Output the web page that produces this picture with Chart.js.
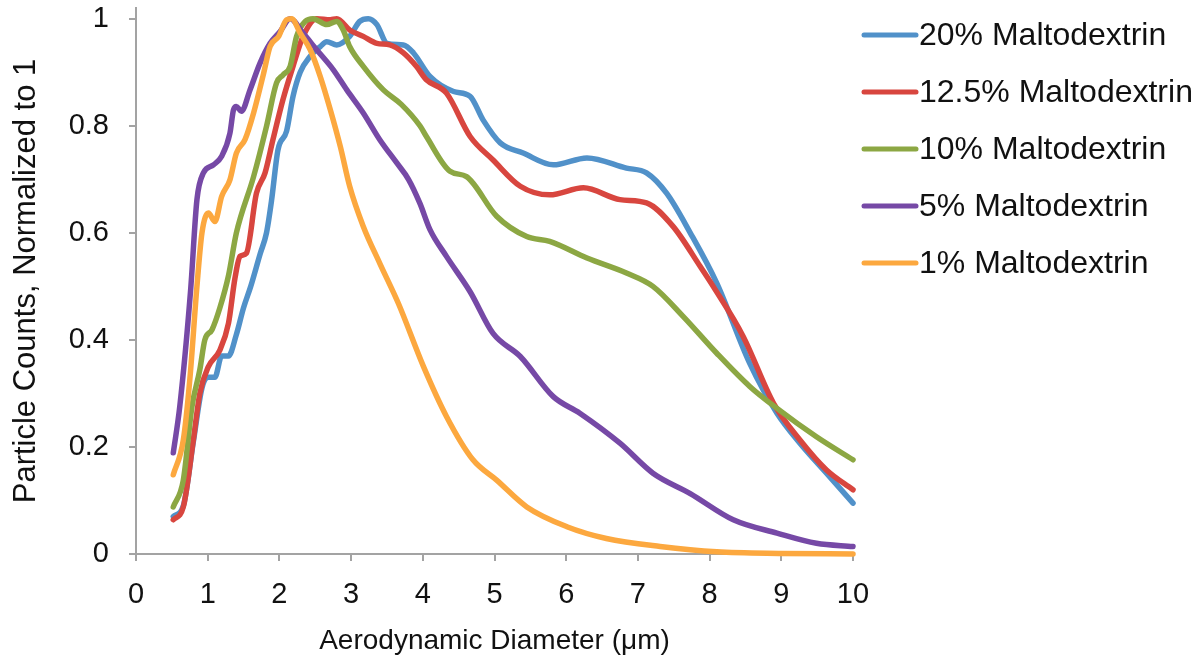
<!DOCTYPE html>
<html>
<head>
<meta charset="utf-8">
<script src="https://cdn.jsdelivr.net/npm/chart.js@4.4.1/dist/chart.umd.min.js"></script>
<style>
  html, body { margin: 0; padding: 0; background: #fff; }
  #wrap { width: 1203px; height: 663px; position: relative; }
</style>
</head>
<body>
<div id="wrap"><canvas id="chart"></canvas></div>
<script>
// size distributions, aerodynamic diameter (um) vs normalized counts
const seriesNames = ['20% Maltodextrin', '12.5% Maltodextrin', '10% Maltodextrin', '5% Maltodextrin', '1% Maltodextrin'];
const seriesColors = ['#5191c9', '#d8463f', '#8ca743', '#7649a6', '#fca83f'];

const diam20 = [0.52,0.66,0.80,0.92,1.01,1.10,1.195,1.29,1.40,1.50,1.60,1.73,1.82,1.89,1.98,2.10,2.19,2.29,2.43,2.57,2.66,2.80,2.98,3.12,3.24,3.36,3.50,3.73,3.87,4.10,4.43,4.66,4.84,5.08,5.40,5.82,6.29,6.84,7.12,7.40,7.73,8.10,8.56,8.94,9.26,9.63,10];
const count20 = [0.07,0.09,0.21,0.31,0.33,0.33,0.37,0.37,0.41,0.46,0.50,0.56,0.60,0.66,0.755,0.79,0.855,0.90,0.93,0.948,0.957,0.951,0.967,0.995,1.0,0.989,0.954,0.951,0.936,0.892,0.864,0.855,0.811,0.768,0.749,0.727,0.740,0.721,0.712,0.674,0.600,0.506,0.356,0.263,0.207,0.151,0.095];

const diam125 = [0.52,0.66,0.80,0.89,1.01,1.17,1.29,1.38,1.45,1.54,1.68,1.80,1.91,2.05,2.19,2.33,2.52,2.71,2.80,2.98,3.17,3.36,3.54,3.73,3.91,4.05,4.33,4.66,4.98,5.36,5.77,6.24,6.75,7.12,7.49,7.87,8.05,8.47,8.89,9.26,9.63,10];
const count125 = [0.064,0.088,0.213,0.300,0.350,0.381,0.431,0.515,0.556,0.562,0.674,0.712,0.774,0.849,0.911,0.967,1.0,0.998,1.0,0.979,0.967,0.954,0.951,0.936,0.911,0.886,0.861,0.780,0.736,0.687,0.671,0.684,0.662,0.656,0.612,0.537,0.500,0.406,0.282,0.213,0.157,0.120];

const diam10 = [0.52,0.66,0.78,0.89,0.96,1.06,1.17,1.29,1.40,1.64,1.82,1.96,2.05,2.15,2.24,2.36,2.47,2.66,2.80,2.89,2.98,3.17,3.45,3.70,3.96,4.05,4.38,4.61,5.03,5.45,5.77,6.29,6.84,7.21,7.63,8.10,8.56,8.94,9.49,10];
const count10 = [0.088,0.138,0.275,0.344,0.400,0.419,0.46,0.52,0.60,0.705,0.799,0.880,0.895,0.911,0.967,0.995,1.0,0.989,0.995,0.979,0.948,0.911,0.867,0.84,0.80,0.78,0.715,0.705,0.631,0.593,0.584,0.553,0.525,0.500,0.444,0.375,0.313,0.272,0.219,0.176];

const diam5 = [0.52,0.61,0.76,0.85,0.94,1.08,1.195,1.31,1.36,1.40,1.47,1.59,1.73,1.87,2.01,2.15,2.33,2.52,2.75,2.94,3.17,3.40,3.64,3.80,3.96,4.10,4.33,4.66,4.98,5.36,5.82,6.19,6.75,7.21,7.73,8.33,8.94,9.49,10];
const count5 = [0.189,0.275,0.49,0.662,0.712,0.727,0.743,0.786,0.830,0.836,0.827,0.867,0.917,0.954,0.976,1.0,0.973,0.942,0.905,0.867,0.824,0.774,0.730,0.70,0.655,0.606,0.556,0.49,0.412,0.369,0.294,0.263,0.207,0.151,0.113,0.064,0.039,0.020,0.014];

const diam1 = [0.52,0.66,0.75,0.85,0.92,1.01,1.10,1.195,1.31,1.40,1.52,1.64,1.78,1.87,1.99,2.10,2.17,2.29,2.43,2.57,2.71,2.85,2.98,3.17,3.40,3.66,4.01,4.33,4.70,5.03,5.45,6.01,6.56,7.31,8.10,9.0,10];
const count1 = [0.148,0.213,0.325,0.50,0.600,0.637,0.621,0.668,0.699,0.749,0.774,0.824,0.898,0.948,0.967,0.998,1.0,0.973,0.942,0.892,0.830,0.761,0.687,0.612,0.543,0.468,0.350,0.257,0.176,0.138,0.088,0.051,0.029,0.014,0.004,0.001,0];

const xTicks = [0,1,2,3,4,5,6,7,8,9,10];
const yTicks = [0,0.2,0.4,0.6,0.8,1];

const diams = [diam20, diam125, diam10, diam5, diam1];
const counts = [count20, count125, count10, count5, count1];

const FONT = 'Liberation Sans, Arial, Helvetica, sans-serif';
const AXIS_GREY = '#a3a3a3';

const datasets = seriesNames.map((name, i) => ({
  label: name,
  data: diams[i].map((d, j) => ({ x: d, y: counts[i][j] })),
  borderColor: seriesColors[i],
  backgroundColor: seriesColors[i],
  borderWidth: 5.5,
  pointRadius: 0,
  cubicInterpolationMode: 'monotone',
  borderCapStyle: 'round',
  borderJoinStyle: 'round',
  clip: 8,
  order: seriesNames.length - i   // later series sit on top
}));

// legend on the right: short line + label
const sideLegend = {
  id: 'sideLegend',
  afterDraw(chart) {
    const ctx = chart.ctx;
    ctx.save();
    ctx.font = '32px ' + FONT;
    ctx.textBaseline = 'middle';
    ctx.fillStyle = '#111';
    seriesNames.forEach((name, i) => {
      const y = 35 + i * 57;
      ctx.strokeStyle = seriesColors[i];
      ctx.lineWidth = 5;
      ctx.lineCap = 'round';
      ctx.beginPath();
      ctx.moveTo(864, y);
      ctx.lineTo(916, y);
      ctx.stroke();
      ctx.fillText(name, 919, y + 1);
    });
    ctx.restore();
  }
};

// keep the plot box fixed: no extra room for overhanging tick labels
const noOverhang = s => { s.paddingTop = 0; s.paddingBottom = 0; s.paddingLeft = 0; s.paddingRight = 0; };

new Chart(document.getElementById('chart'), {
  type: 'line',
  data: { datasets },
  options: {
    responsive: true,
    maintainAspectRatio: false,
    animation: false,
    layout: { padding: { top: 8, right: 350, bottom: 0, left: 0 } },
    plugins: { legend: { display: false }, tooltip: { enabled: false } },
    scales: {
      x: {
        type: 'linear',
        min: 0,
        max: 10,
        afterBuildTicks: s => { s.ticks = xTicks.map(v => ({ value: v })); },
        afterFit: s => { s.height = 109; noOverhang(s); },
        border: { color: AXIS_GREY, width: 2 },
        grid: { drawOnChartArea: false, drawTicks: true, tickLength: 7, color: AXIS_GREY, lineWidth: 2 },
        ticks: { color: '#111', font: { family: FONT, size: 29 }, padding: 17, maxRotation: 0 },
        title: { display: true, text: 'Aerodynamic Diameter (\u03bcm)', color: '#111', font: { family: FONT, size: 28 }, padding: { top: 0, bottom: 5 } }
      },
      y: {
        min: 0,
        max: 1.02,
        afterBuildTicks: s => { s.ticks = yTicks.map(v => ({ value: v })); },
        afterFit: s => { s.width = 136; noOverhang(s); },
        border: { color: AXIS_GREY, width: 2 },
        grid: { drawOnChartArea: false, drawTicks: true, tickLength: 7, color: AXIS_GREY, lineWidth: 2 },
        ticks: { color: '#111', font: { family: FONT, size: 29 }, padding: 20, callback: v => String(v) },
        title: { display: true, text: 'Particle Counts, Normalized to 1', color: '#111', font: { family: FONT, size: 31 }, padding: { top: 8, bottom: 0 } }
      }
    }
  },
  plugins: [sideLegend]
});
</script>
</body>
</html>
